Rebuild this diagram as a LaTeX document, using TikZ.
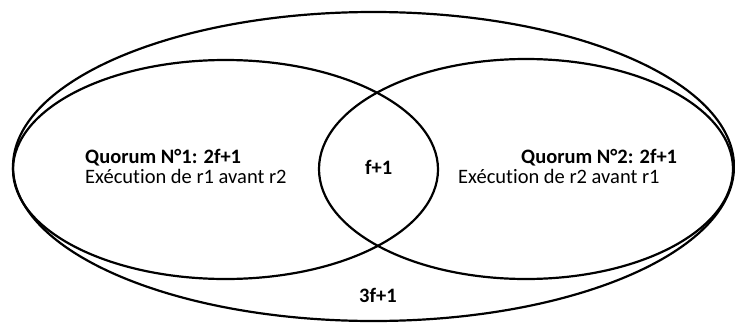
\documentclass[tikz,border=0pt]{standalone}
\usepackage{fontspec}
\setmainfont[Ligatures={NoCommon}]{Carlito}
\begin{document}
\begin{tikzpicture}[x=1pt,y=-1pt,
  ring/.style={draw=black,line width=2.2pt},
  lbl/.style={inner sep=0pt,anchor=base west,font=\fontsize{20.5}{24}\selectfont},
  blbl/.style={lbl,font=\fontsize{20.5}{24}\selectfont\bfseries}]
\useasboundingbox (0,0) rectangle (735,324);
\path[ring] (373.5,166.5) ellipse [x radius=360.5, y radius=154.5];
\path[ring] (225.5,169.5) ellipse [x radius=212.5, y radius=109.5];
\path[ring] (526,169) ellipse [x radius=207, y radius=110];
\node[blbl] (q1) at (85,163) {Quorum N°1: 2f+1};
\node[lbl] (e1) at (85,183) {Exécution de r1 avant r2};
\node[blbl] (q2) at (521,163) {Quorum N°2: 2f+1};
\node[lbl] (e2) at (458,183) {Exécution de r2 avant r1};
\node[blbl] (i) at (365,174) {f+1};
\node[blbl] (t) at (359,302) {3f+1};
\end{tikzpicture}
\end{document}
